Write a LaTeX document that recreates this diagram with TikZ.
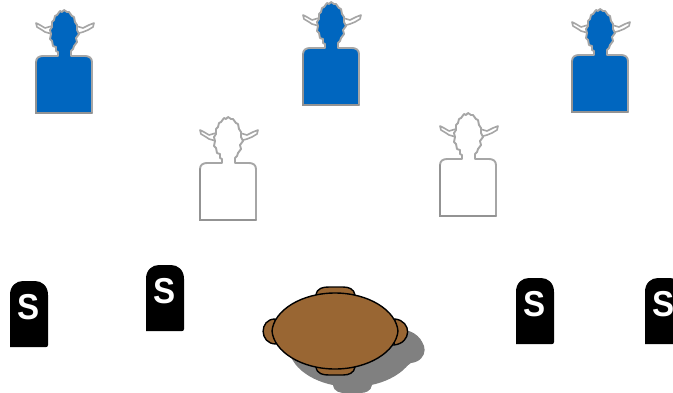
\documentclass[tikz,border=0pt]{standalone}
\usepackage{fontspec}
\setmainfont{Liberation Sans}
\definecolor{figblue}{HTML}{0066BF}
\definecolor{tablebrown}{HTML}{996633}
\definecolor{shadowgray}{HTML}{808080}
\tikzset{
  figedge/.style={draw=gray!70,line width=1.9pt,line join=round},
  figdark/.style={draw=gray!85,line width=1.6pt,line cap=round},
  stone/.style={fill=black,draw=none},
  stoneletter/.style={text=white,font=\bfseries\fontsize{36}{36}\selectfont,inner sep=0pt,xscale=0.92},
  tablepart/.style={fill=tablebrown,draw=black,line width=1.4pt},
  pics/person/.style={code={
    % arm loops
    \path[figedge,fill=white,line width=1.6pt] (-12,16) -- (-19,18) -- (-24,15) -- (-28,13) -- (-27,17) -- (-22,20) -- (-19,22) -- (-12,24) -- cycle;
    \path[figedge,fill=white,line width=1.6pt] (12,16) -- (19,18) -- (25,15) -- (30,13) -- (29,17) -- (24,20) -- (19,22) -- (12,24) -- cycle;
    % head and body
    \path[figedge,fill=#1]
      (-6,46) -- (-6,42) -- (-8,41) -- (-8,37) -- (-11,36) -- (-12,31) -- (-14,29) -- (-13,24) -- (-14,20)
      -- (-12,17) -- (-12,12) -- (-10,10) -- (-9,6) -- (-7,5) -- (-4,1) -- (-2,2) -- (0,0) -- (3,2) -- (5,2)
      -- (8,6) -- (10,7) -- (11,12) -- (13,15) -- (13,20) -- (15,24) -- (12,28) -- (13,32) -- (10,36)
      -- (9,39) -- (7,41) -- (7,46) -- (21,46) .. controls (25,46) and (28,48) .. (28,52)
      -- (28,103) -- (-28,103) -- (-28,52) .. controls (-28,48) and (-25,46) .. (-21,46) -- cycle;
    \draw[figdark] (-28,52) -- (-28,103) -- (28,103);
  }},
  pics/tomb/.style={code={
    \fill[stone] (-19,66) -- (-19,14) .. controls (-19,5) and (-13,0) .. (-6,0) -- (6,0)
      .. controls (13,0) and (19,5) .. (19,14) -- (19,64) .. controls (19,65.5) and (18,66) .. (17,66) -- cycle;
    \node[stoneletter] (#1) at (0,26) {S};
  }},
  pics/tablecore/.style={code={
    \path[#1] (-19,-36) .. controls (-18,-43) and (-12,-44) .. (-6,-44) -- (8,-44) .. controls (14,-44) and (19,-42) .. (20,-36) -- cycle;
    \path[#1] (-19,36) .. controls (-18,43) and (-12,44) .. (-6,44) -- (8,44) .. controls (14,44) and (19,42) .. (20,36) -- cycle;
    \path[#1] (60,-12) .. controls (77,-10) and (77,12) .. (59,14) -- cycle;
    \path[#1] (-63,0) .. controls (-61,-21) and (-33,-38) .. (0,-38) .. controls (33,-38) and (61,-21) .. (63,0)
      .. controls (61,21) and (33,38) .. (0,38) .. controls (-33,38) and (-61,21) .. (-63,0) -- cycle;
  }},
  pics/tablehandle/.style={code={
    \path[#1] (-60,-12) .. controls (-76,-12) and (-76,13) .. (-59,13) -- cycle;
  }},
}
\begin{document}
\begin{tikzpicture}[x=1pt,y=-1pt]
\useasboundingbox (0,0) rectangle (673,392);
\begin{scope}
\clip (0,0) rectangle (673,392);
\pic at (64,10) {person=figblue};
\pic at (331,2) {person=figblue};
\pic at (600,9) {person=figblue};
\pic at (228,117) {person=white};
\pic at (468,113) {person=white};
\pic at (29,281) {tomb=s1};
\pic at (165,265) {tomb=s2};
\pic at (535,278) {tomb=s3};
\pic at (664,278) {tomb=s4};
\pic at (352,349) {tablecore={fill=shadowgray}};
\fill[shadowgray] (405,330) .. controls (418,332) and (428,345) .. (421,353) .. controls (414,362) and (405,368) .. (392,374) -- cycle;
\pic at (335,331) {tablehandle={tablepart}};
\pic at (335,331) {tablecore={tablepart}};
\end{scope}
\end{tikzpicture}
\end{document}
